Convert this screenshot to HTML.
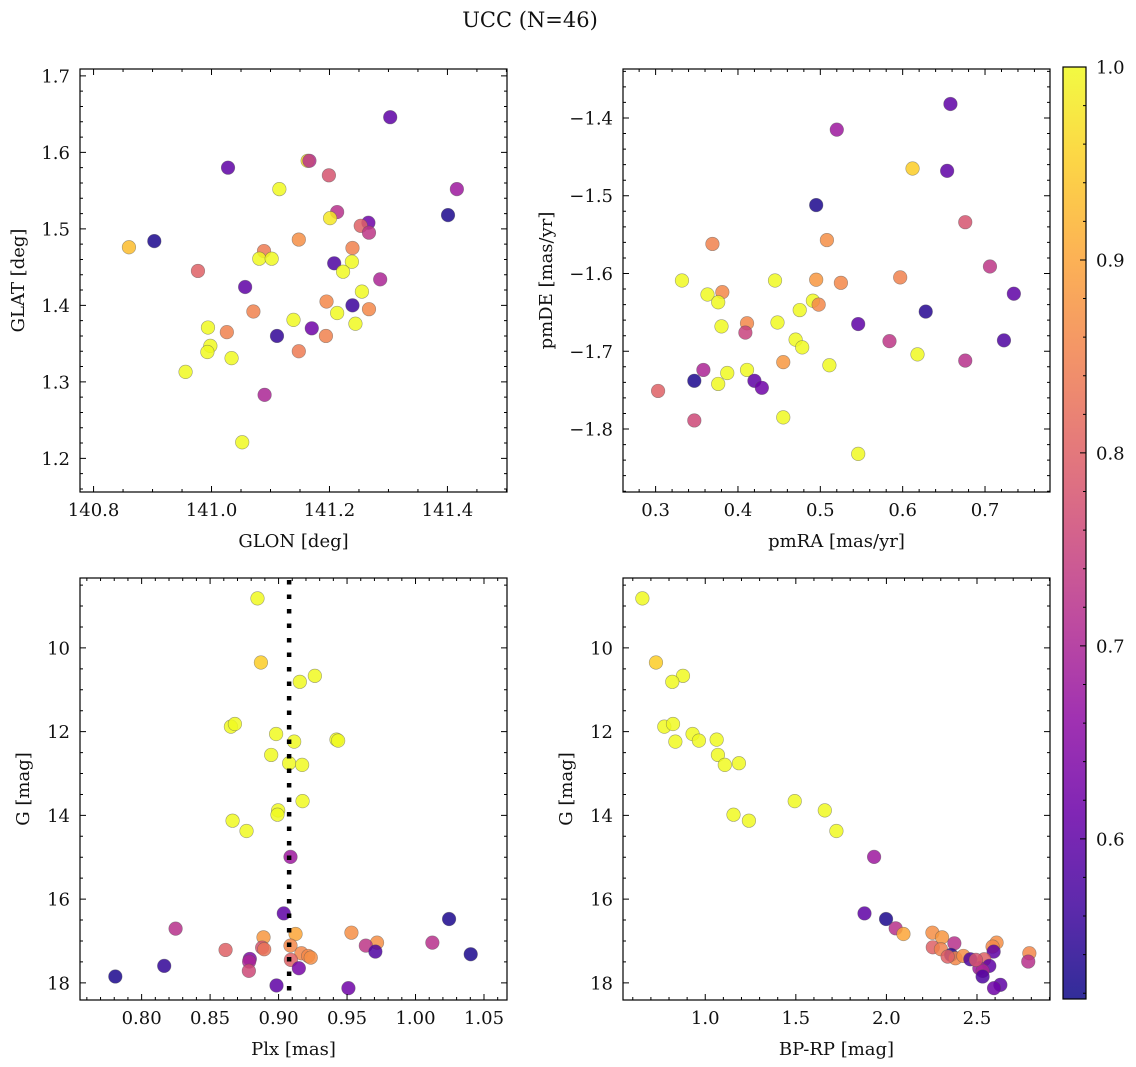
<!DOCTYPE html>
<html><head><meta charset="utf-8"><title>UCC (N=46)</title>
<style>
html,body{margin:0;padding:0;background:#fff;}
svg{display:block;font-family:"DejaVu Serif","Liberation Serif",serif;}
</style></head>
<body>
<svg id="fig" width="1136" height="1067" viewBox="0 0 1136 1067" xmlns="http://www.w3.org/2000/svg">
<text x="530" y="27" font-size="21" text-anchor="middle" fill="#111">UCC (N=46)</text>
</svg>
<script>
// ---------- data ----------
const glon = [141.303,141.028,141.163,141.166,141.199,141.115,141.416,141.213,141.201,141.401,141.266,141.253,141.267,140.860,140.903,141.148,141.239,141.089,141.081,141.102,141.208,141.238,141.223,140.977,141.286,141.057,141.255,141.195,141.239,141.213,141.267,141.071,141.139,141.244,140.994,141.170,141.026,141.111,141.194,140.998,140.993,141.148,141.034,140.956,141.090,141.052];
const glat = [1.646,1.580,1.589,1.589,1.570,1.552,1.552,1.522,1.514,1.518,1.508,1.504,1.495,1.476,1.484,1.486,1.475,1.471,1.461,1.461,1.455,1.457,1.444,1.445,1.434,1.424,1.418,1.405,1.400,1.390,1.395,1.392,1.381,1.376,1.371,1.370,1.365,1.360,1.360,1.347,1.339,1.340,1.331,1.313,1.283,1.221];
const prob1 = [0.6,0.6,0.97,0.72,0.78,1.0,0.68,0.72,0.98,0.53,0.62,0.8,0.73,0.93,0.53,0.87,0.85,0.84,1.0,1.0,0.58,1.0,1.0,0.8,0.7,0.6,1.0,0.86,0.56,1.0,0.86,0.85,1.0,1.0,1.0,0.62,0.85,0.55,0.85,1.0,1.0,0.84,1.0,1.0,0.7,1.0];

const pmra = [0.658,0.520,0.612,0.654,0.495,0.676,0.369,0.508,0.706,0.332,0.445,0.495,0.525,0.597,0.735,0.363,0.381,0.376,0.491,0.498,0.475,0.628,0.546,0.380,0.448,0.411,0.409,0.584,0.470,0.478,0.723,0.618,0.511,0.455,0.676,0.358,0.387,0.411,0.347,0.376,0.420,0.429,0.303,0.455,0.347,0.546];
const pmde = [-1.382,-1.415,-1.465,-1.468,-1.512,-1.534,-1.562,-1.557,-1.591,-1.609,-1.609,-1.608,-1.612,-1.605,-1.626,-1.627,-1.624,-1.637,-1.635,-1.640,-1.647,-1.649,-1.665,-1.668,-1.663,-1.664,-1.676,-1.687,-1.685,-1.695,-1.686,-1.704,-1.718,-1.714,-1.712,-1.724,-1.728,-1.724,-1.738,-1.742,-1.738,-1.747,-1.751,-1.785,-1.789,-1.832];
const prob2 = [0.6,0.68,0.95,0.6,0.53,0.78,0.85,0.87,0.73,1.0,1.0,0.88,0.86,0.85,0.6,1.0,0.86,1.0,1.0,0.86,1.0,0.54,0.6,1.0,1.0,0.86,0.75,0.73,1.0,1.0,0.58,1.0,1.0,0.88,0.72,0.7,1.0,1.0,0.53,1.0,0.6,0.62,0.8,1.0,0.76,1.0];

const plx = [0.8846,0.8871,0.9265,0.9155,0.8652,0.8681,0.8982,0.9114,0.9423,0.9435,0.8946,0.9077,0.9172,0.9175,0.8997,0.8992,0.8664,0.8766,0.9087,0.9038,1.0245,0.8248,0.9532,0.9124,0.8890,0.9719,0.9637,1.0123,0.9087,0.8613,0.8880,0.8895,0.9707,0.9167,0.9216,0.9235,1.0403,0.8790,0.8785,0.9090,0.9148,0.8165,0.8783,0.7808,0.8985,0.9510];
const gmag3 = [8.817,10.349,10.667,10.810,11.881,11.817,12.056,12.238,12.190,12.214,12.556,12.754,12.794,13.659,13.881,13.984,14.127,14.373,14.992,16.341,16.476,16.706,16.802,16.833,16.913,17.040,17.111,17.040,17.111,17.214,17.159,17.198,17.254,17.294,17.357,17.397,17.317,17.429,17.492,17.452,17.651,17.595,17.714,17.849,18.063,18.127];
const prob3 = [1.0,0.95,1.0,1.0,1.0,1.0,1.0,1.0,1.0,1.0,1.0,1.0,1.0,1.0,1.0,1.0,1.0,1.0,0.68,0.6,0.53,0.72,0.87,0.9,0.88,0.87,0.73,0.72,0.86,0.8,0.78,0.83,0.58,0.86,0.86,0.87,0.53,0.64,0.7,0.8,0.63,0.55,0.76,0.53,0.6,0.62];
const plxMedian = [0.9077];

const bprp = [0.653,0.728,0.877,0.818,0.774,0.822,0.930,0.835,1.063,0.965,1.070,1.108,1.186,1.494,1.660,1.156,1.241,1.724,1.932,1.879,1.998,2.051,2.094,2.254,2.307,2.375,2.256,2.301,2.357,2.381,2.425,2.463,2.608,2.586,2.592,2.540,2.568,2.513,2.531,2.531,2.629,2.594,2.789,2.783,2.494,2.338];
const gmag4 = [8.817,10.349,10.667,10.810,11.881,11.817,12.056,12.238,12.190,12.214,12.556,12.794,12.754,13.659,13.881,13.984,14.127,14.373,14.992,16.341,16.476,16.698,16.833,16.802,16.913,17.056,17.151,17.198,17.333,17.413,17.357,17.437,17.040,17.135,17.254,17.437,17.595,17.651,17.714,17.849,18.048,18.127,17.294,17.492,17.452,17.373];
const prob4 = [1.0,0.95,1.0,1.0,1.0,1.0,1.0,1.0,1.0,1.0,1.0,1.0,1.0,1.0,1.0,1.0,1.0,1.0,0.68,0.6,0.53,0.72,0.9,0.87,0.88,0.72,0.8,0.85,0.54,0.86,0.87,0.58,0.87,0.86,0.6,0.8,0.6,0.68,0.7,0.58,0.6,0.62,0.86,0.72,0.78,0.8];

const cbTicks = [0.6,0.7,0.8,0.9,1.0];
const cbMin = 0.517, cbMax = 1.0;

// ---------- helpers ----------
const NS = "http://www.w3.org/2000/svg";
const svg = document.getElementById('fig');
const FS = 18;
function mk(tag, attrs, parent){
  const e = document.createElementNS(NS, tag);
  for (const k in attrs) e.setAttribute(k, attrs[k]);
  (parent||svg).appendChild(e);
  return e;
}
const plasma = [[13,8,135],[65,4,157],[106,0,168],[143,13,164],[177,42,144],[204,71,120],[225,100,98],[242,132,75],[252,166,54],[252,206,37],[240,249,33]];
function cmap(v){
  let t = (v - cbMin)/(cbMax - cbMin); t = Math.max(0, Math.min(1, t));
  const f = t*10, i = Math.min(9, Math.floor(f)), r = f - i;
  const a = plasma[i], b = plasma[i+1];
  return `rgb(${Math.round(a[0]+(b[0]-a[0])*r)},${Math.round(a[1]+(b[1]-a[1])*r)},${Math.round(a[2]+(b[2]-a[2])*r)})`;
}
function range(a, b, s){ const o=[]; for(let v=a; v<=b+s*1e-6; v+=s) o.push(+v.toFixed(6)); return o; }

function panel(cfg){
  const g = mk('g', {});
  
  
  const {x0,x1,y0,y1} = cfg.box;
  const sx = v => x0 + (v - cfg.xlim[0])/(cfg.xlim[1]-cfg.xlim[0])*(x1-x0);
  const sy = cfg.invert ? (v => y0 + (v - cfg.ylim[0])/(cfg.ylim[1]-cfg.ylim[0])*(y1-y0))
                        : (v => y1 - (v - cfg.ylim[0])/(cfg.ylim[1]-cfg.ylim[0])*(y1-y0));
  const pg = mk('g', {}, g);
  
  
  for (let i=0;i<cfg.xs.length;i++){
    const c = mk('circle', {cx:sx(cfg.xs[i]).toFixed(2), cy:sy(cfg.ys[i]).toFixed(2), r:6.8, fill:cmap(cfg.cs[i]), 'fill-opacity':0.85, stroke:'#555', 'stroke-opacity':0.55, 'stroke-width':0.6}, pg);
    
    
  }
  if (cfg.vline){
    const l = mk('line', {x1:sx(cfg.vline[0]), x2:sx(cfg.vline[0]), y1:y0+2, y2:y1, stroke:'#000', 'stroke-width':4.5, 'stroke-dasharray':'4.5 10'}, g);
    
    
  }
  mk('rect', {x:x0, y:y0, width:x1-x0, height:y1-y0, fill:'none', stroke:'#000', 'stroke-width':1.2}, g);
  let d = '';
  cfg.xminor.forEach(v=>{ const x=sx(v); if(x<x0||x>x1) return; d+=`M${x},${y1}v-3M${x},${y0}v3`; });
  cfg.yminor.forEach(v=>{ const y=sy(v); if(y<y0||y>y1) return; d+=`M${x0},${y}h3M${x1},${y}h-3`; });
  cfg.xmajor.forEach(v=>{ const x=sx(v); d+=`M${x},${y1}v-6M${x},${y0}v6`; });
  cfg.ymajor.forEach(v=>{ const y=sy(v); d+=`M${x0},${y}h6M${x1},${y}h-6`; });
  mk('path', {d:d, stroke:'#000', 'stroke-width':1, fill:'none'}, g);
  cfg.xmajor.forEach((v,i)=>{
    const t = mk('text', {x:sx(v), y:y1+24, 'font-size':FS, 'text-anchor':'middle', fill:'#111'}, g);
    t.textContent = cfg.xlabels[i];
    
    
  });
  cfg.ymajor.forEach((v,i)=>{
    const t = mk('text', {x:x0-10, y:sy(v)+6.5, 'font-size':FS, 'text-anchor':'end', fill:'#111'}, g);
    t.textContent = cfg.ylabels[i];
    
    
  });
  const xt = mk('text', {x:(x0+x1)/2, y:y1+55, 'font-size':FS, 'text-anchor':'middle', fill:'#111'}, g);
  xt.textContent = cfg.xtitle;
  
  
  const yx = cfg.ytitleX, yy = (y0+y1)/2;
  const yt = mk('text', {x:yx, y:yy, 'font-size':FS, 'text-anchor':'middle', fill:'#111', transform:`rotate(-90 ${yx} ${yy})`}, g);
  yt.textContent = cfg.ytitle;
  
  
}

const topRow = {y0:69, y1:492}, botRow = {y0:578, y1:1000};
const colL = {x0:80, x1:507}, colR = {x0:623, x1:1050};

panel({name:'glon-glat-panel', box:{...colL,...topRow}, xlim:[140.777,141.501], ylim:[1.156,1.709],
  xmajor:[140.8,141.0,141.2,141.4], xlabels:['140.8','141.0','141.2','141.4'], xminor:range(140.75,141.5,0.05),
  ymajor:[1.2,1.3,1.4,1.5,1.6,1.7], ylabels:['1.2','1.3','1.4','1.5','1.6','1.7'], yminor:range(1.16,1.70,0.02),
  xs:glon, ys:glat, cs:prob1, xtitle:'GLON [deg]', ytitle:'GLAT [deg]', ytitleX:24});

panel({name:'pm-panel', box:{...colR,...topRow}, xlim:[0.2604,0.7789], ylim:[-1.881,-1.337],
  xmajor:[0.3,0.4,0.5,0.6,0.7], xlabels:['0.3','0.4','0.5','0.6','0.7'], xminor:range(0.26,0.78,0.02),
  ymajor:[-1.8,-1.7,-1.6,-1.5,-1.4], ylabels:['\u22121.8','\u22121.7','\u22121.6','\u22121.5','\u22121.4'], yminor:range(-1.88,-1.34,0.02),
  xs:pmra, ys:pmde, cs:prob2, xtitle:'pmRA [mas/yr]', ytitle:'pmDE [mas/yr]', ytitleX:552});

panel({name:'plx-g-panel', box:{...colL,...botRow}, xlim:[0.755,1.0668], ylim:[8.33,18.41], invert:true,
  xmajor:[0.80,0.85,0.90,0.95,1.00,1.05], xlabels:['0.80','0.85','0.90','0.95','1.00','1.05'], xminor:range(0.76,1.06,0.01),
  ymajor:[10,12,14,16,18], ylabels:['10','12','14','16','18'], yminor:range(8.5,18,0.5),
  xs:plx, ys:gmag3, cs:prob3, vline:plxMedian, xtitle:'Plx [mas]', ytitle:'G [mag]', ytitleX:29});

panel({name:'cmd-panel', box:{...colR,...botRow}, xlim:[0.546,2.903], ylim:[8.33,18.41], invert:true,
  xmajor:[1.0,1.5,2.0,2.5], xlabels:['1.0','1.5','2.0','2.5'], xminor:range(0.6,2.9,0.1),
  ymajor:[10,12,14,16,18], ylabels:['10','12','14','16','18'], yminor:range(8.5,18,0.5),
  xs:bprp, ys:gmag4, cs:prob4, xtitle:'BP-RP [mag]', ytitle:'G [mag]', ytitleX:572});

(function(){
  const cx0=1063, cx1=1086, cy0=67, cy1=999;
  const g = mk('g', {});
  
  
  const defs = mk('defs', {}, g);
  const lg = mk('linearGradient', {id:'cbgrad', x1:0, y1:1, x2:0, y2:0}, defs);
  for (let i=0;i<=20;i++){ const v = cbMin + (cbMax-cbMin)*i/20; mk('stop', {offset:(i/20), 'stop-color':cmap(v), 'stop-opacity':0.85}, lg); }
  mk('rect', {x:cx0, y:cy0, width:cx1-cx0, height:cy1-cy0, fill:'url(#cbgrad)', stroke:'#000', 'stroke-width':1.2}, g);
  const sy = v => cy1 - (v-cbMin)/(cbMax-cbMin)*(cy1-cy0);
  let d='';
  range(0.52,1.0,0.02).forEach(v=>{ d+=`M${cx1},${sy(v)}h-3`; });
  cbTicks.forEach(v=>{ d+=`M${cx1},${sy(v)}h-6`; });
  mk('path', {d:d, stroke:'#000', 'stroke-width':1}, g);
  cbTicks.forEach(v=>{
    const t = mk('text', {x:1096, y:sy(v)+6.5, 'font-size':FS, fill:'#111'}, g);
    t.textContent = v.toFixed(1);
    
    
  });
})();
</script>
</body></html>
